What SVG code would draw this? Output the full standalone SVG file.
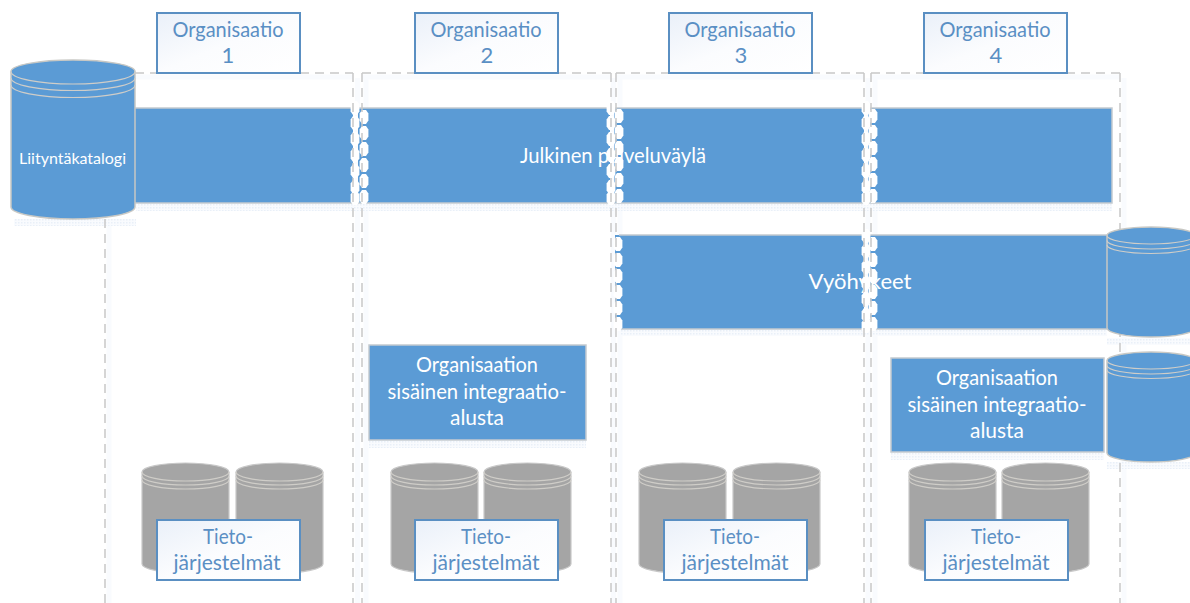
<svg xmlns="http://www.w3.org/2000/svg" xmlns:xlink="http://www.w3.org/1999/xlink" width="1190" height="603" viewBox="0 0 1190 603">
<style>
text{font-family:"Lato","Open Sans","Liberation Sans",sans-serif;text-anchor:middle}
.bar{fill:#5b9bd5;stroke:#c4cad0;stroke-width:1.5}
.flat{fill:#5b9bd5}
.edge{fill:none;stroke:#c4cad0;stroke-width:1.5}
.cap{fill:#5b9bd5;stroke:#c8c8c4;stroke-width:1.5}
.ring{fill:none;stroke:#cfcdc8;stroke-width:1.2}
.gray{fill:#a5a5a5;stroke:#c8c8c8;stroke-width:1.2}
.label{fill:url(#paper);stroke:#5a8fc2;stroke-width:2}
.blue{fill:#5a8fc4;font-size:22px}
.white{fill:#fff;font-size:22px}
.small{fill:#fff;font-size:16px}
.lane{fill:none;stroke:#c8c8c8;stroke-width:1.5;stroke-dasharray:9 6}
.glow{fill:none;stroke:#f9fbfe;stroke-width:5}
.bead{fill:#fff}
.shadow{fill:url(#dots)}
</style>
<defs>
<linearGradient id="paper" x1="0" y1="0" x2="1" y2="1">
<stop offset="0" stop-color="#eaf0f9"/><stop offset=".5" stop-color="#fbfcfe"/><stop offset="1" stop-color="#fff"/>
</linearGradient>
<pattern id="dots" width="3" height="3" patternUnits="userSpaceOnUse">
<rect width="3" height="3" fill="#f9fbfe"/><rect width="1.5" height="1.5" fill="#e9f0f8"/>
</pattern>
<path id="b" class="bead" d="M-2-7H2L4.400-3.500V3.500L2 7H-2L-4.400 3.500V-3.500Z"/>
<g id="beadsR">
<use xlink:href="#b" y="0"/><use xlink:href="#b" y="16"/><use xlink:href="#b" y="32"/><use xlink:href="#b" y="48"/><use xlink:href="#b" y="64"/><use xlink:href="#b" y="80"/>
</g>
<g id="beadsL">
<use xlink:href="#b" y="-15"/><use xlink:href="#b" y="0"/><use xlink:href="#b" y="16"/><use xlink:href="#b" y="32"/><use xlink:href="#b" y="48"/><use xlink:href="#b" y="64"/><use xlink:href="#b" y="75"/>
</g>
<g id="grayCyl">
<path class="gray" d="M0 9A43.500 9 0 0 1 87 9V101A43.500 9 0 0 1 0 101Z"/>
<path class="ring" d="M0 9A43.500 9 0 0 0 87 9M0 13A43.500 9 0 0 0 87 13M0 17A43.500 9 0 0 0 87 17"/>
</g>
<g id="rightCyl">
<path class="cap" d="M0 8.500A44 8.500 0 0 1 88 8.500V101A44 9 0 0 1 0 101Z"/>
<path class="ring" d="M0 8.500A44 8.500 0 0 0 88 8.500M0 13.500A44 8.500 0 0 0 88 13.500M0 18A44 8.500 0 0 0 88 18"/>
</g>
</defs>
<rect width="1190" height="603" fill="#fff"/>

<g id="lane-glow">
<path class="glow" d="M109 219V603M357.500 78V603M366 78V603M613.500 78V603M620 78V603M868 78V603M875 78V603M1124 78V603"/>
<path class="glow" d="M135 77H353M362 77H611M616 77H864M871 77H1120"/>
</g>
<g id="shadows">
<rect class="shadow" x="136" y="204" width="976" height="7"/>
<rect class="shadow" x="620" y="329" width="487" height="7"/>
<rect class="shadow" x="369" y="441" width="217" height="7"/>
<rect class="shadow" x="891" y="453" width="213" height="7"/>
<rect class="shadow" x="14" y="219" width="122" height="7"/>
<rect class="shadow" x="1107" y="338" width="83" height="7"/>
<rect class="shadow" x="1107" y="462" width="83" height="7"/>
</g>

<g id="service-bus">
<rect class="flat" x="135" y="108" width="218" height="95"/>
<rect class="flat" x="358" y="108" width="252" height="95"/>
<rect class="flat" x="614" y="108" width="250" height="95"/>
<rect class="flat" x="868" y="108" width="244" height="95"/>
<path class="edge" d="M135 108H353M358 108H610M614 108H864M868 108H1112V203H868M864 203H614M610 203H358M353 203H135"/>
<text class="white" x="613" y="163" textLength="186" lengthAdjust="spacingAndGlyphs">Julkinen palveluväylä</text>
</g>
<g id="zones">
<rect class="flat" x="615" y="235" width="249" height="94"/>
<rect class="flat" x="868" y="235" width="240" height="94"/>
<path class="edge" d="M619 235H864M868 235H1108M868 329H1108M864 329H619"/>
<text class="white" x="860" y="289" textLength="103" lengthAdjust="spacingAndGlyphs">Vyöhykeet</text>
</g>

<g id="seams">
<use xlink:href="#beadsL" x="355" y="123"/><use xlink:href="#beadsR" x="364" y="117"/>
<use xlink:href="#beadsL" x="611" y="123"/><use xlink:href="#beadsR" x="619" y="116"/>
<use xlink:href="#beadsL" x="866" y="123"/><use xlink:href="#beadsR" x="873" y="116"/>
<use xlink:href="#beadsR" x="618" y="244"/>
<use xlink:href="#beadsL" x="866" y="251"/><use xlink:href="#beadsR" x="873" y="244"/>
</g>

<g id="connectors">
<path class="lane" d="M105 219V603M353 73V603M362 73V603M611 73V603M616 73V603M864 73V603M871 73V603M1120 73V603"/>
<path class="lane" d="M135 73H353M362 73H611M616 73H864M871 73H1120"/>
</g>

<g id="catalog">
<path class="cap" d="M11 71.500A62 11.500 0 0 1 135 71.500V207A62 12 0 0 1 11 207Z"/>
<path class="ring" d="M11 71.500A62 12.500 0 0 0 135 71.500M11 78A62 12.500 0 0 0 135 78M11 85A62 12.500 0 0 0 135 85"/>
<text class="small" x="72.500" y="164" textLength="107" lengthAdjust="spacingAndGlyphs">Liityntäkatalogi</text>
</g>
<use id="zone-store" xlink:href="#rightCyl" x="1107" y="227"/>
<use id="platform-store" xlink:href="#rightCyl" x="1107" y="352"/>

<g id="platform-2">
<rect class="bar" x="369" y="345" width="217" height="95"/>
<text class="white" x="477" y="372" textLength="122" lengthAdjust="spacingAndGlyphs">Organisaation</text>
<text class="white" x="477" y="399" textLength="179" lengthAdjust="spacingAndGlyphs">sisäinen integraatio-</text>
<text class="white" x="477" y="425" textLength="54" lengthAdjust="spacingAndGlyphs">alusta</text>
</g>
<g id="platform-4">
<rect class="bar" x="891" y="358" width="213" height="94"/>
<text class="white" x="997" y="385" textLength="122" lengthAdjust="spacingAndGlyphs">Organisaation</text>
<text class="white" x="997" y="412" textLength="179" lengthAdjust="spacingAndGlyphs">sisäinen integraatio-</text>
<text class="white" x="997" y="438" textLength="54" lengthAdjust="spacingAndGlyphs">alusta</text>
</g>

<g id="org-1">
<rect class="label" x="157" y="13" width="143" height="60"/>
<text class="blue" x="228" y="37" textLength="111" lengthAdjust="spacingAndGlyphs">Organisaatio</text>
<text class="blue" x="228" y="63">1</text>
</g>
<g id="org-2">
<rect class="label" x="415" y="13" width="143" height="60"/>
<text class="blue" x="486" y="37" textLength="111" lengthAdjust="spacingAndGlyphs">Organisaatio</text>
<text class="blue" x="487" y="63">2</text>
</g>
<g id="org-3">
<rect class="label" x="669" y="13" width="143" height="60"/>
<text class="blue" x="740" y="37" textLength="111" lengthAdjust="spacingAndGlyphs">Organisaatio</text>
<text class="blue" x="741" y="63">3</text>
</g>
<g id="org-4">
<rect class="label" x="924" y="13" width="143" height="60"/>
<text class="blue" x="995" y="37" textLength="111" lengthAdjust="spacingAndGlyphs">Organisaatio</text>
<text class="blue" x="996" y="63">4</text>
</g>

<g id="systems-1">
<use xlink:href="#grayCyl" x="142" y="463"/><use xlink:href="#grayCyl" x="236" y="463"/>
<rect class="label" x="157" y="520" width="143" height="60"/>
<text class="blue" x="228" y="544" textLength="50" lengthAdjust="spacingAndGlyphs">Tieto-</text>
<text class="blue" x="227" y="570" textLength="107" lengthAdjust="spacingAndGlyphs">järjestelmät</text>
</g>
<g id="systems-2">
<use xlink:href="#grayCyl" x="391" y="463"/><use xlink:href="#grayCyl" x="484" y="463"/>
<rect class="label" x="415" y="520" width="143" height="60"/>
<text class="blue" x="486" y="544" textLength="50" lengthAdjust="spacingAndGlyphs">Tieto-</text>
<text class="blue" x="486" y="570" textLength="107" lengthAdjust="spacingAndGlyphs">järjestelmät</text>
</g>
<g id="systems-3">
<use xlink:href="#grayCyl" x="639" y="463"/><use xlink:href="#grayCyl" x="733" y="463"/>
<rect class="label" x="664" y="520" width="143" height="60"/>
<text class="blue" x="735" y="544" textLength="50" lengthAdjust="spacingAndGlyphs">Tieto-</text>
<text class="blue" x="735" y="570" textLength="107" lengthAdjust="spacingAndGlyphs">järjestelmät</text>
</g>
<g id="systems-4">
<use xlink:href="#grayCyl" x="909" y="463"/><use xlink:href="#grayCyl" x="1002" y="463"/>
<rect class="label" x="925" y="520" width="143" height="60"/>
<text class="blue" x="996" y="544" textLength="50" lengthAdjust="spacingAndGlyphs">Tieto-</text>
<text class="blue" x="996" y="570" textLength="107" lengthAdjust="spacingAndGlyphs">järjestelmät</text>
</g>
</svg>
